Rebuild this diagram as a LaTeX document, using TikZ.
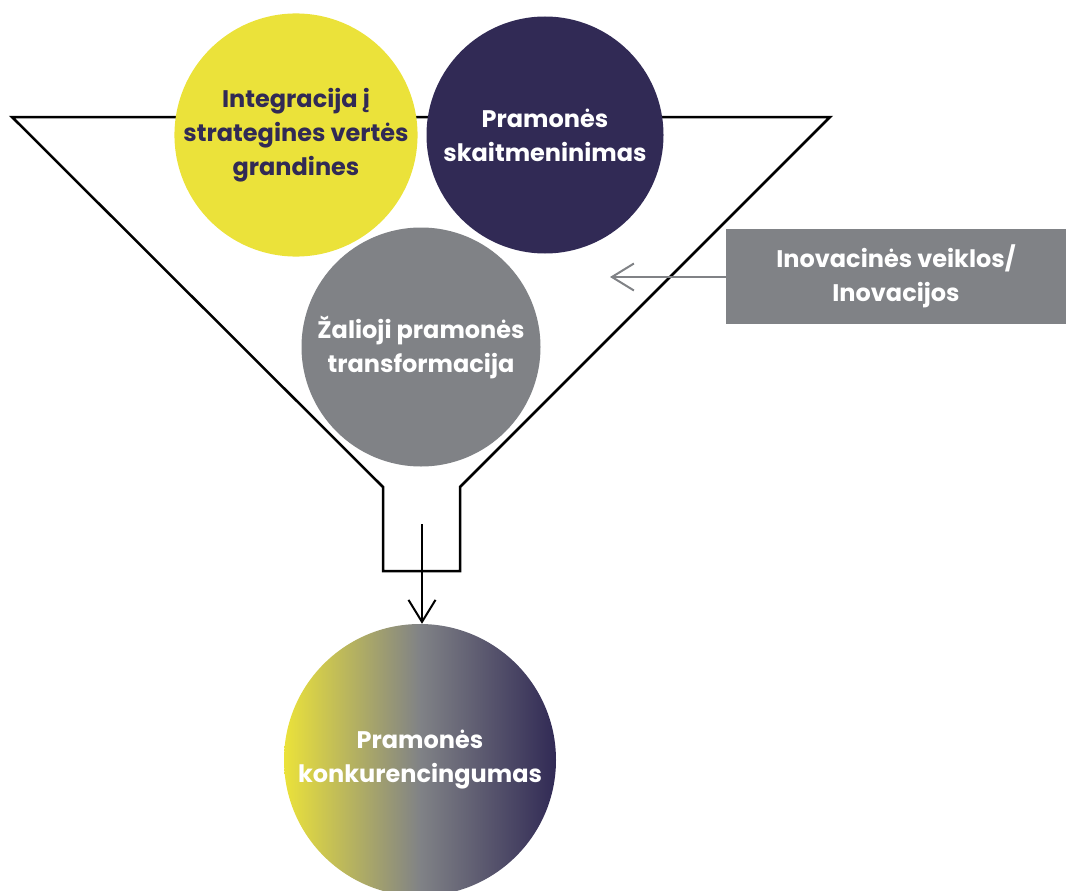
\documentclass[tikz,border=0pt]{standalone}
\usepackage{fontspec}
\setmainfont{Poppins}
\usepackage{tikz}
\usetikzlibrary{arrows.meta}

\definecolor{lemon}{HTML}{EBE23A}
\definecolor{navy}{HTML}{312A55}
\definecolor{slate}{HTML}{808286}

\tikzset{
    bubble/.style={circle, minimum size=237pt, inner sep=0pt, align=center,
        font=\fontsize{24}{34}\selectfont\bfseries, text=white},
    barb/.style={-{Straight Barb[length=22pt, width=27pt, line width=2pt]}, line width=2pt}
}

\begin{document}
\begin{tikzpicture}[x=1pt, y=-1pt]
        \useasboundingbox (0,0) rectangle (1066,891);

        % Draw the funnel outline
        \draw[line width=2.5pt, line join=miter] (12,117) -- (383,487) -- (383,571) -- (460,571)
            -- (460,487) -- (830,117) -- cycle;

        % Three input circles
        \node[bubble, fill=lemon, text=navy] (integr) at (296,135)
            {Integracija į\\strategines vertės\\grandines};
        \node[bubble, fill=navy] (digit) at (545,135) {Pramonės\\skaitmeninimas};
        \node[bubble, fill=slate, minimum size=239pt] (green) at (421,347)
            {Žalioji pramonės\\transformacija};

        % Innovation box and its arrow
        \node[fill=slate, minimum width=340pt, minimum height=95pt, inner sep=0pt, align=center,
            font=\fontsize{24}{34}\selectfont\bfseries, text=white] (innov) at (896,276.5)
            {Inovacinės veiklos/\\Inovacijos};
        \coordinate (innovtip) at (610,277);
        \draw[barb, slate] (innov.west |- innovtip) -- (innovtip);

        % Result circle with gradient
        \node[bubble, minimum size=272pt, left color=lemon, right color=navy, middle color=slate]
            (result) at (420,760) {Pramonės\\konkurencingumas};

        % Output arrow from the funnel neck
        \coordinate (neck) at (422,524);
        \draw[barb] (neck) -- (neck |- result.north);

    \end{tikzpicture}
\end{document}
